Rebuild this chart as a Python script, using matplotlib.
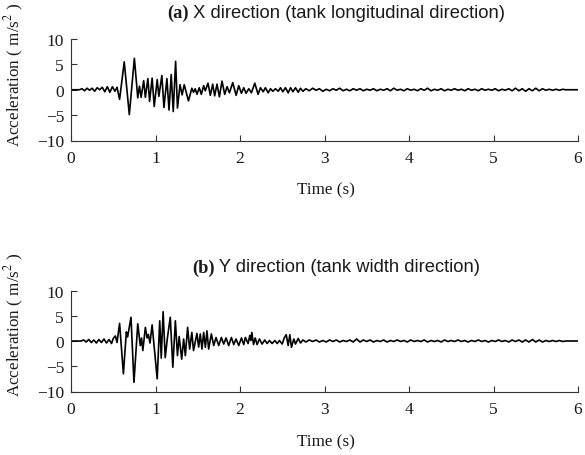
import matplotlib
matplotlib.use("Agg")
import matplotlib.pyplot as plt

plt.rcParams['font.family'] = ['Liberation Serif', 'DejaVu Serif']
plt.rcParams['mathtext.fontset'] = 'stix'

# ---------------- data ----------------
x_pre = [(0.00, 0.0), (0.10, 0.0), (0.13, 0.2), (0.16, -0.2), (0.19, 0.3), (0.22, -0.1),
         (0.25, 0.3), (0.28, -0.3), (0.31, 0.4), (0.34, 0.0), (0.37, 0.5), (0.40, -0.4),
         (0.43, 0.6), (0.46, -0.5), (0.49, 0.6), (0.52, -0.3), (0.545, 0.5)]
x_main = [(0.575, -1.9), (0.63, 5.5), (0.69, -4.9), (0.75, 6.2), (0.79, -1.6), (0.81, 0.7),
          (0.83, -1.5), (0.86, 1.8), (0.88, -1.5), (0.91, 2.2), (0.93, -2.3), (0.96, 2.3),
          (0.985, -3.3), (1.02, 2.0), (1.04, -1.3), (1.075, 2.8), (1.10, -3.5), (1.135, 2.2),
          (1.16, -4.0), (1.186, 3.0), (1.21, -4.3), (1.238, 5.6), (1.26, -3.6), (1.29, 1.0),
          (1.315, -1.0), (1.34, 1.0), (1.39, -2.2), (1.43, 0.3), (1.45, -0.5), (1.47, 0.2)]
x_coda = [(1.491, -0.9), (1.518, 0.4), (1.542, -0.9), (1.570, 0.8), (1.589, -0.2), (1.621, 1.3),
          (1.649, -1.1), (1.677, 1.1), (1.700, -1.2), (1.728, 1.1), (1.756, -1.4), (1.787, 1.7),
          (1.819, -0.9), (1.847, 0.6), (1.875, -0.6), (1.914, 1.4), (1.954, -1.1), (1.985, 0.8),
          (2.017, -0.7), (2.044, 0.4), (2.072, -0.7), (2.104, 0.2), (2.135, -0.6), (2.175, 1.3),
          (2.214, -0.9), (2.242, 0.4), (2.274, -0.4), (2.301, 0.4), (2.333, -0.6), (2.361, 0.2),
          (2.388, -0.3), (2.420, 0.2), (2.452, -0.3), (2.479, 0.4), (2.507, -0.4), (2.538, 0.4),
          (2.570, -0.6), (2.598, 0.4), (2.626, -0.4), (2.657, 0.4), (2.689, -0.5), (2.716, 0.3),
          (2.744, -0.3)]
x_tail = [(2.78, 0.2), (2.82, -0.2), (2.86, 0.3), (2.90, -0.1), (2.94, 0.2), (2.98, -0.3),
          (3.02, 0.1), (3.06, -0.2), (3.10, 0.2), (3.14, -0.1), (3.18, 0.3), (3.22, -0.2),
          (3.26, 0.1), (3.30, -0.2), (3.34, 0.2), (3.38, -0.1), (3.42, 0.2), (3.46, -0.2),
          (3.50, 0.1), (3.54, -0.1), (3.58, 0.2), (3.62, -0.2), (3.66, 0.1), (3.70, -0.1),
          (3.74, 0.2), (3.78, -0.2), (3.82, 0.3), (3.86, -0.1), (3.90, 0.1), (3.94, -0.2),
          (3.98, 0.2), (4.02, -0.1), (4.06, 0.1), (4.10, -0.2), (4.14, 0.2), (4.18, -0.1),
          (4.22, 0.3), (4.26, -0.2), (4.30, 0.1), (4.34, -0.1), (4.38, 0.2), (4.42, -0.2),
          (4.46, 0.1), (4.50, -0.1), (4.54, 0.2), (4.58, -0.1), (4.62, 0.1), (4.66, -0.2),
          (4.70, 0.2), (4.74, -0.1), (4.78, 0.1), (4.82, -0.2), (4.86, 0.2), (4.90, -0.1),
          (4.94, 0.1), (4.98, -0.1), (5.02, 0.2), (5.06, -0.2), (5.10, 0.1), (5.14, -0.1),
          (5.18, 0.2), (5.22, -0.2), (5.26, 0.3), (5.30, -0.2), (5.34, 0.2), (5.38, -0.3),
          (5.42, 0.2), (5.46, -0.2), (5.50, 0.3), (5.54, -0.2), (5.58, 0.2), (5.62, -0.1),
          (5.66, 0.1), (5.70, -0.1), (5.74, 0.1), (5.78, -0.1), (5.82, 0.1), (5.85, 0.0),
          (6.00, 0.0)]

y_pre = [(0.00, 0.0), (0.12, 0.0), (0.15, 0.2), (0.18, -0.2), (0.21, 0.3), (0.24, -0.3),
         (0.27, 0.2), (0.30, -0.4), (0.33, 0.3), (0.36, -0.3), (0.39, 0.4), (0.42, -0.4),
         (0.45, 0.3), (0.48, -0.5), (0.50, 0.5), (0.525, 1.0), (0.545, -0.3)]
y_main = [(0.575, 3.5), (0.62, -6.5), (0.655, 1.8), (0.67, 0.8), (0.71, 4.7), (0.745, -8.2),
          (0.79, 3.4), (0.82, -0.9), (0.835, 0.6), (0.85, -1.9), (0.88, 2.7), (0.90, 0.6),
          (0.915, 1.3), (0.935, -0.4), (0.96, 3.2), (1.02, -7.5), (1.05, 4.0), (1.068, -3.4),
          (1.09, 5.8), (1.115, -3.3), (1.14, 0.5), (1.175, 4.7), (1.205, -5.2), (1.235, 4.0),
          (1.26, -2.9), (1.28, 0.9), (1.31, -3.6), (1.333, 0.4), (1.353, -2.9), (1.38, 2.7),
          (1.404, -1.6), (1.43, 1.7), (1.45, -1.9), (1.49, 1.5)]
y_coda = [(1.511, -1.2), (1.530, 1.4), (1.550, -1.6), (1.570, 1.7), (1.590, -1.25), (1.609, 2.0),
          (1.629, -1.6), (1.661, 1.4), (1.689, -0.9), (1.716, 0.7), (1.748, -0.9), (1.780, 0.7),
          (1.807, -0.6), (1.835, 0.6), (1.866, -0.9), (1.898, 0.7), (1.926, -0.7), (1.953, 0.4),
          (1.985, -0.9), (2.017, 0.6), (2.044, -0.7), (2.064, 0.7), (2.096, -0.5), (2.116, 1.1),
          (2.128, 0.1), (2.140, 1.7), (2.160, -0.7), (2.180, 0.6), (2.202, -0.7), (2.230, 0.4),
          (2.261, -0.6), (2.293, 0.2), (2.321, -0.5), (2.349, 0.1), (2.380, -0.5), (2.412, 0.1),
          (2.440, -0.5), (2.467, 0.1), (2.499, -0.6), (2.523, 0.6), (2.547, 1.25), (2.570, -0.9),
          (2.590, 1.25), (2.609, -1.25), (2.637, 0.4), (2.657, -0.6), (2.689, 0.5), (2.716, -0.4),
          (2.744, 0.2)]
y_tail = [(2.78, -0.2), (2.82, 0.2), (2.86, -0.1), (2.90, 0.2), (2.94, -0.2), (2.98, 0.1),
          (3.02, -0.2), (3.06, 0.2), (3.10, -0.1), (3.14, 0.2), (3.18, -0.2), (3.22, 0.1),
          (3.26, -0.1), (3.30, 0.2), (3.34, -0.2), (3.38, 0.4), (3.42, -0.2), (3.46, 0.2),
          (3.50, -0.1), (3.54, 0.2), (3.58, -0.2), (3.62, 0.1), (3.66, -0.1), (3.70, 0.2),
          (3.74, -0.2), (3.78, 0.1), (3.82, -0.1), (3.86, 0.2), (3.90, -0.1), (3.94, 0.1),
          (3.98, -0.2), (4.02, 0.2), (4.06, -0.1), (4.10, 0.1), (4.14, -0.1), (4.18, 0.2),
          (4.22, -0.2), (4.26, 0.1), (4.30, -0.1), (4.34, 0.1), (4.38, -0.2), (4.42, 0.2),
          (4.46, -0.1), (4.50, 0.1), (4.54, -0.1), (4.58, 0.2), (4.62, -0.1), (4.66, 0.1),
          (4.70, -0.2), (4.74, 0.1), (4.78, -0.1), (4.82, 0.2), (4.86, -0.1), (4.90, 0.1),
          (4.94, -0.2), (4.98, 0.1), (5.02, -0.1), (5.06, 0.2), (5.10, -0.1), (5.14, 0.1),
          (5.18, -0.2), (5.22, 0.2), (5.26, -0.1), (5.30, 0.2), (5.34, -0.2), (5.38, 0.2),
          (5.42, -0.2), (5.46, 0.3), (5.50, -0.2), (5.54, 0.2), (5.58, -0.2), (5.62, 0.1),
          (5.66, -0.1), (5.70, 0.1), (5.74, -0.1), (5.78, 0.1), (5.82, -0.1), (5.85, 0.0),
          (6.00, 0.0)]

x_ticks = [0, 1, 2, 3, 4, 5, 6]
y_ticks = [-10, -5, 0, 5, 10]
titles_bold = ["(a)", "(b)"]
titles_rest = [" X direction (tank longitudinal direction)", " Y direction (tank width direction)"]
ylabel = "Acceleration ( m/s$^2$ )"
xlabel = "Time (s)"

# ---------------- figure ----------------
W, H = 585, 456
fig = plt.figure(figsize=(W / 100, H / 100), dpi=100)

def px_rect(left, top, right, bottom):
    return [left / W, 1 - bottom / H, (right - left) / W, (bottom - top) / H]

axes_specs = [
    dict(rect=px_rect(71, 40, 578, 141.5), data=x_pre + x_main + x_coda + x_tail,
         title_xy=(167, 13), ylab_y=75, xlab_y=190),
    dict(rect=px_rect(71, 291.5, 578, 392.5), data=y_pre + y_main + y_coda + y_tail,
         title_xy=(192, 268), ylab_y=325, xlab_y=442),
]

TXT = '#1a1a1a'
for i, spec in enumerate(axes_specs):
    ax = fig.add_axes(spec['rect'])
    t, a = zip(*spec['data'])
    ax.plot(t, a, color='black', lw=1.2)
    ax.set_xlim(0, 6)
    ax.set_ylim(-10, 10)
    ax.set_xticks(x_ticks)
    ax.set_yticks(y_ticks)
    ax.set_xticklabels([str(v) for v in x_ticks])
    ax.set_yticklabels([str(v).replace('-', '\u2212') for v in y_ticks])
    for s in ['top', 'right']:
        ax.spines[s].set_visible(False)
    for s in ['left', 'bottom']:
        ax.spines[s].set_linewidth(0.8)
        ax.spines[s].set_color('#333333')
    ax.tick_params(direction='in', length=4, width=0.8, colors='#333333',
                   labelsize=12.5, labelcolor=TXT)
    ax.tick_params(axis='x', pad=6.5)
    ax.tick_params(axis='y', pad=5)

    tx, ty = spec['title_xy']
    tb = fig.text(tx / W, 1 - ty / H, titles_bold[i], fontsize=13.2, fontweight='bold',
                  family='Liberation Serif', ha='left', va='center', color=TXT)
    ax.annotate(titles_rest[i], xy=(1, 0.5), xycoords=tb, ha='left', va='center',
                fontsize=13.2, family='Liberation Sans', color=TXT)

    fig.text(14 / W, 1 - spec['ylab_y'] / H, ylabel, rotation=90, ha='center', va='center',
             fontsize=12.3, color=TXT)
    fig.text(326 / W, 1 - spec['xlab_y'] / H, xlabel, ha='center', va='center',
             fontsize=12.3, color=TXT)

fig.savefig("out.png", dpi=100)
